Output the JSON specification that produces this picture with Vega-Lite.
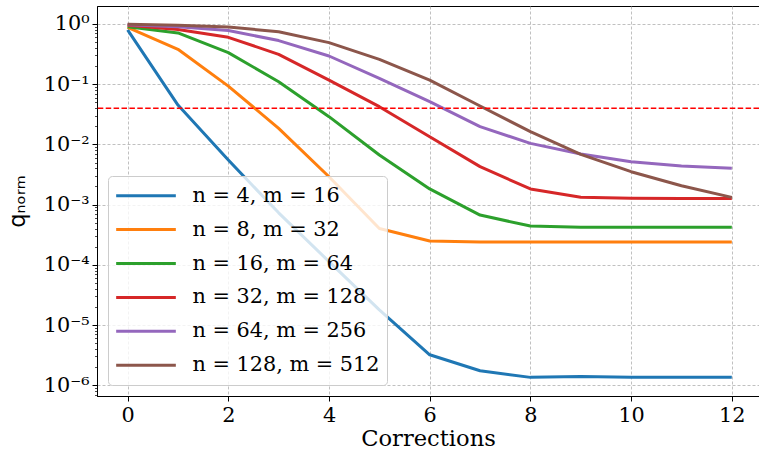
{
  "$schema": "https://vega.github.io/schema/vega-lite/v6.json",
  "width": 662,
  "height": 390,
  "autosize": {"type": "none"},
  "padding": {"left": 97, "top": 6, "right": 0, "bottom": 56},
  "background": "white",
  "config": {"view": {"stroke": "black", "strokeWidth": 1}, "font": "DejaVu Serif"},
  "data": {"values": [
    {"series": "n = 4, m = 16", "c": 0, "q": 0.80},
    {"series": "n = 4, m = 16", "c": 1, "q": 0.045},
    {"series": "n = 4, m = 16", "c": 2, "q": 0.0055},
    {"series": "n = 4, m = 16", "c": 3, "q": 0.00073},
    {"series": "n = 4, m = 16", "c": 4, "q": 0.000113},
    {"series": "n = 4, m = 16", "c": 5, "q": 0.0000178},
    {"series": "n = 4, m = 16", "c": 6, "q": 0.0000032},
    {"series": "n = 4, m = 16", "c": 7, "q": 0.00000174},
    {"series": "n = 4, m = 16", "c": 8, "q": 0.00000135},
    {"series": "n = 4, m = 16", "c": 9, "q": 0.0000014},
    {"series": "n = 4, m = 16", "c": 10, "q": 0.00000135},
    {"series": "n = 4, m = 16", "c": 11, "q": 0.00000135},
    {"series": "n = 4, m = 16", "c": 12, "q": 0.00000135},
    {"series": "n = 8, m = 32", "c": 0, "q": 0.88},
    {"series": "n = 8, m = 32", "c": 1, "q": 0.38},
    {"series": "n = 8, m = 32", "c": 2, "q": 0.093},
    {"series": "n = 8, m = 32", "c": 3, "q": 0.0185},
    {"series": "n = 8, m = 32", "c": 4, "q": 0.0029},
    {"series": "n = 8, m = 32", "c": 5, "q": 0.0004},
    {"series": "n = 8, m = 32", "c": 6, "q": 0.000248},
    {"series": "n = 8, m = 32", "c": 7, "q": 0.00024},
    {"series": "n = 8, m = 32", "c": 8, "q": 0.00024},
    {"series": "n = 8, m = 32", "c": 9, "q": 0.00024},
    {"series": "n = 8, m = 32", "c": 10, "q": 0.00024},
    {"series": "n = 8, m = 32", "c": 11, "q": 0.00024},
    {"series": "n = 8, m = 32", "c": 12, "q": 0.00024},
    {"series": "n = 16, m = 64", "c": 0, "q": 0.90},
    {"series": "n = 16, m = 64", "c": 1, "q": 0.71},
    {"series": "n = 16, m = 64", "c": 2, "q": 0.334},
    {"series": "n = 16, m = 64", "c": 3, "q": 0.110},
    {"series": "n = 16, m = 64", "c": 4, "q": 0.0289},
    {"series": "n = 16, m = 64", "c": 5, "q": 0.00667},
    {"series": "n = 16, m = 64", "c": 6, "q": 0.00182},
    {"series": "n = 16, m = 64", "c": 7, "q": 0.00067},
    {"series": "n = 16, m = 64", "c": 8, "q": 0.00044},
    {"series": "n = 16, m = 64", "c": 9, "q": 0.00042},
    {"series": "n = 16, m = 64", "c": 10, "q": 0.00042},
    {"series": "n = 16, m = 64", "c": 11, "q": 0.00042},
    {"series": "n = 16, m = 64", "c": 12, "q": 0.00042},
    {"series": "n = 32, m = 128", "c": 0, "q": 0.95},
    {"series": "n = 32, m = 128", "c": 1, "q": 0.81},
    {"series": "n = 32, m = 128", "c": 2, "q": 0.60},
    {"series": "n = 32, m = 128", "c": 3, "q": 0.313},
    {"series": "n = 32, m = 128", "c": 4, "q": 0.117},
    {"series": "n = 32, m = 128", "c": 5, "q": 0.0423},
    {"series": "n = 32, m = 128", "c": 6, "q": 0.0134},
    {"series": "n = 32, m = 128", "c": 7, "q": 0.00427},
    {"series": "n = 32, m = 128", "c": 8, "q": 0.00182},
    {"series": "n = 32, m = 128", "c": 9, "q": 0.00132},
    {"series": "n = 32, m = 128", "c": 10, "q": 0.00127},
    {"series": "n = 32, m = 128", "c": 11, "q": 0.00126},
    {"series": "n = 32, m = 128", "c": 12, "q": 0.00126},
    {"series": "n = 64, m = 256", "c": 0, "q": 0.97},
    {"series": "n = 64, m = 256", "c": 1, "q": 0.90},
    {"series": "n = 64, m = 256", "c": 2, "q": 0.78},
    {"series": "n = 64, m = 256", "c": 3, "q": 0.53},
    {"series": "n = 64, m = 256", "c": 4, "q": 0.294},
    {"series": "n = 64, m = 256", "c": 5, "q": 0.125},
    {"series": "n = 64, m = 256", "c": 6, "q": 0.0513},
    {"series": "n = 64, m = 256", "c": 7, "q": 0.0197},
    {"series": "n = 64, m = 256", "c": 8, "q": 0.0104},
    {"series": "n = 64, m = 256", "c": 9, "q": 0.00693},
    {"series": "n = 64, m = 256", "c": 10, "q": 0.00517},
    {"series": "n = 64, m = 256", "c": 11, "q": 0.00438},
    {"series": "n = 64, m = 256", "c": 12, "q": 0.0040},
    {"series": "n = 128, m = 512", "c": 0, "q": 0.99},
    {"series": "n = 128, m = 512", "c": 1, "q": 0.95},
    {"series": "n = 128, m = 512", "c": 2, "q": 0.89},
    {"series": "n = 128, m = 512", "c": 3, "q": 0.745},
    {"series": "n = 128, m = 512", "c": 4, "q": 0.49},
    {"series": "n = 128, m = 512", "c": 5, "q": 0.259},
    {"series": "n = 128, m = 512", "c": 6, "q": 0.117},
    {"series": "n = 128, m = 512", "c": 7, "q": 0.0434},
    {"series": "n = 128, m = 512", "c": 8, "q": 0.0163},
    {"series": "n = 128, m = 512", "c": 9, "q": 0.00684},
    {"series": "n = 128, m = 512", "c": 10, "q": 0.00352},
    {"series": "n = 128, m = 512", "c": 11, "q": 0.00206},
    {"series": "n = 128, m = 512", "c": 12, "q": 0.00132}
  ]},
  "layer": [
    {
      "mark": {"type": "line", "strokeWidth": 3, "strokeJoin": "round", "clip": true},
      "encoding": {
        "x": {
          "field": "c", "type": "quantitative",
          "scale": {"domain": [-0.608, 12.54], "nice": false, "zero": false},
          "axis": {
            "values": [0, 2, 4, 6, 8, 10, 12],
            "title": "Corrections",
            "titleFont": "DejaVu Serif", "titleFontSize": 22.6, "titleFontWeight": "normal", "titleColor": "black", "titlePadding": 3,
            "labelFont": "DejaVu Serif", "labelFontSize": 20.8, "labelColor": "black", "labelPadding": 4,
            "labelFlush": false, "labelOverlap": false,
            "tickSize": 5, "tickColor": "black", "tickWidth": 1,
            "domainColor": "black", "domainWidth": 1,
            "grid": true, "gridColor": "#b0b0b0", "gridDash": [3, 2], "gridWidth": 0.8
          }
        },
        "y": {
          "field": "q", "type": "quantitative",
          "scale": {"type": "log", "domain": [6.62e-7, 1.99], "nice": false},
          "axis": {
            "values": [1, 0.1, 0.01, 0.001, 0.0001, 0.00001, 0.000001,
              7e-7, 8e-7, 9e-7,
              2e-6, 3e-6, 4e-6, 5e-6, 6e-6, 7e-6, 8e-6, 9e-6,
              2e-5, 3e-5, 4e-5, 5e-5, 6e-5, 7e-5, 8e-5, 9e-5,
              2e-4, 3e-4, 4e-4, 5e-4, 6e-4, 7e-4, 8e-4, 9e-4,
              2e-3, 3e-3, 4e-3, 5e-3, 6e-3, 7e-3, 8e-3, 9e-3,
              0.02, 0.03, 0.04, 0.05, 0.06, 0.07, 0.08, 0.09,
              0.2, 0.3, 0.4, 0.5, 0.6, 0.7, 0.8, 0.9],
            "labelExpr": "abs(log(datum.value)/LN10 - round(log(datum.value)/LN10)) < 1e-6 ? ['10⁰','10⁻¹','10⁻²','10⁻³','10⁻⁴','10⁻⁵','10⁻⁶','10⁻⁷'][abs(round(log(datum.value)/LN10))] : ''",
            "title": "qₙₒᵣₘ",
            "titleFont": "DejaVu Sans", "titleFontSize": 22.6, "titleFontWeight": "normal", "titleColor": "black", "titlePadding": 14,
            "labelFont": "DejaVu Serif", "labelFontSize": 20.8, "labelColor": "black", "labelPadding": 3,
            "labelFlush": false, "labelOverlap": false,
            "tickSize": {"condition": {"test": "abs(log(datum.value)/LN10 - round(log(datum.value)/LN10)) < 1e-6", "value": 5}, "value": 2.5},
            "tickWidth": {"condition": {"test": "abs(log(datum.value)/LN10 - round(log(datum.value)/LN10)) < 1e-6", "value": 1}, "value": 0.7},
            "tickColor": "black",
            "domainColor": "black", "domainWidth": 1,
            "grid": true, "gridColor": "#b0b0b0", "gridDash": [3, 2], "gridWidth": 0.8,
            "gridOpacity": {"condition": {"test": "abs(log(datum.value)/LN10 - round(log(datum.value)/LN10)) < 1e-6", "value": 1}, "value": 0}
          }
        },
        "color": {
          "field": "series", "type": "nominal",
          "scale": {
            "domain": ["n = 4, m = 16", "n = 8, m = 32", "n = 16, m = 64", "n = 32, m = 128", "n = 64, m = 256", "n = 128, m = 512"],
            "range": ["#1f77b4", "#ff7f0e", "#2ca02c", "#d62728", "#9467bd", "#8c564b"]
          },
          "legend": {
            "title": null, "orient": "none", "legendX": 11, "legendY": 170,
            "symbolType": "stroke", "symbolStrokeWidth": 3, "symbolSize": 3560,
            "clipHeight": 26.4, "rowPadding": 6.9, "padding": 6.5,
            "labelFont": "DejaVu Serif", "labelFontSize": 20.8, "labelColor": "black", "labelOffset": 15, "labelLimit": 400,
            "fillColor": "rgba(255,255,255,0.8)", "strokeColor": "#cccccc", "cornerRadius": 4
          }
        }
      }
    },
    {
      "data": {"values": [{"threshold": 0.04}]},
      "mark": {"type": "rule", "color": "red", "strokeWidth": 1.5, "strokeDash": [5.5, 2.4]},
      "encoding": {"y": {"field": "threshold", "type": "quantitative"}}
    }
  ]
}
